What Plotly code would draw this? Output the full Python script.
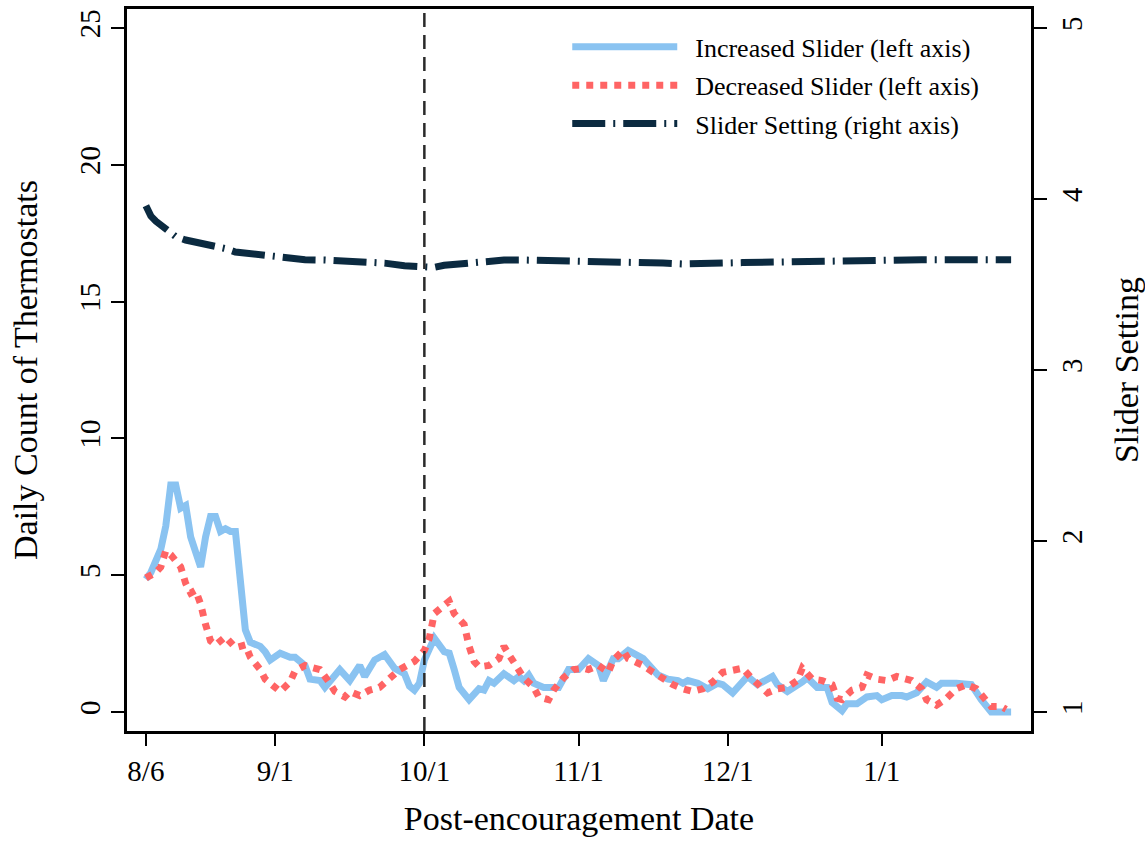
import pandas as pd
import plotly.graph_objects as go

# ---- data (days since 8/6) ----
base_date = "2016-08-06"

inc_days = [0, 1, 3, 4, 5, 6, 7, 8, 9, 11, 12, 13, 14, 15, 16, 17, 18, 19, 20, 21, 23, 24, 25, 27, 29, 30,
            32, 33, 35, 36, 37, 39, 41, 43, 44, 46, 48, 50, 52, 53, 54, 55, 56, 58, 60, 61, 62, 63, 65, 67,
            68, 69, 70, 72, 74, 75, 76, 77, 78, 80, 81, 83, 85, 87, 89, 91, 92, 94, 95, 97, 99, 100, 102,
            103, 105, 107, 108, 109, 111, 113, 115, 116, 118, 121, 123, 126, 127, 129, 132, 133, 135, 137,
            138, 140, 141, 143, 145, 147, 148, 150, 152, 153, 155, 157, 159, 160, 163, 166, 168, 170, 174]
inc_vals = [4.85, 5.1, 5.95, 6.8, 8.3, 8.3, 7.45, 7.55, 6.4, 5.3, 6.4, 7.15, 7.15, 6.6, 6.7, 6.6, 6.6, 4.8,
            3.0, 2.55, 2.4, 2.2, 1.9, 2.15, 2.0, 2.0, 1.7, 1.2, 1.15, 0.9, 1.15, 1.55, 1.15, 1.7, 1.3, 1.9,
            2.1, 1.6, 1.4, 0.95, 0.8, 1.05, 1.9, 2.7, 2.2, 2.15, 1.55, 0.9, 0.45, 0.85, 0.8, 1.15, 1.05,
            1.4, 1.15, 1.3, 1.15, 1.35, 1.05, 0.9, 0.9, 0.9, 1.55, 1.55, 1.95, 1.7, 1.15, 1.95, 1.95, 2.25,
            2.05, 1.95, 1.55, 1.35, 1.2, 1.15, 1.05, 1.15, 1.05, 0.85, 1.05, 1.0, 0.7, 1.3, 1.0, 1.3, 1.0,
            0.75, 1.1, 1.25, 0.9, 0.9, 0.35, 0.05, 0.3, 0.3, 0.55, 0.6, 0.45, 0.6, 0.6, 0.55, 0.7, 1.1,
            0.9, 1.05, 1.05, 1.0, 0.45, 0.0, 0.0]

dec_days = [0, 2, 3, 4, 5, 7, 8, 9, 10, 11, 12, 13, 14, 16, 18, 20, 21, 23, 24, 26, 27, 29, 30, 32, 35,
            37, 38, 40, 41, 43, 45, 47, 49, 51, 53, 54, 56, 57, 58, 60, 61, 62, 64, 65, 66, 67, 69, 71,
            72, 73, 75, 76, 78, 79, 81, 82, 84, 86, 88, 89, 91, 93, 94, 96, 97, 100, 102, 104, 106, 108,
            110, 112, 114, 116, 118, 120, 122, 124, 125, 127, 129, 131, 132, 134, 136, 138, 139, 140, 142,
            144, 145, 147, 149, 151, 154, 156, 157, 159, 161, 163, 165, 167, 169, 170, 172, 173]
dec_vals = [4.9, 5.1, 5.3, 5.9, 5.75, 5.3, 4.7, 4.35, 4.45, 3.95, 3.2, 2.6, 2.45, 2.75, 2.35, 2.45, 2.0,
            1.55, 1.2, 0.85, 0.75, 1.1, 1.5, 1.7, 1.55, 1.05, 0.75, 0.55, 0.75, 0.6, 0.8, 0.9, 1.25, 1.55,
            1.75, 1.85, 2.25, 2.7, 3.6, 3.85, 4.05, 3.6, 3.2, 2.4, 1.85, 1.65, 1.7, 1.95, 2.4, 2.1, 1.6,
            1.25, 0.9, 0.55, 0.45, 0.8, 1.25, 1.55, 1.6, 1.55, 1.7, 1.45, 1.9, 2.25, 1.95, 1.7, 1.45, 1.2,
            1.0, 0.85, 0.75, 0.85, 1.1, 1.45, 1.55, 1.6, 1.2, 0.85, 0.7, 0.85, 0.9, 1.15, 1.6, 1.2, 1.15,
            1.0, 0.5, 0.45, 0.8, 0.9, 1.35, 1.2, 1.15, 1.3, 1.15, 0.85, 0.45, 0.25, 0.5, 0.85, 1.0, 0.85,
            0.45, 0.2, 0.2, 0.1]

set_days = [0, 1, 2, 4, 6, 8, 11, 14, 16, 18, 21, 24, 28, 32, 36, 40, 44, 48, 52, 56, 58, 60, 64, 68, 72,
            76, 80, 84, 88, 92, 96, 100, 104, 108, 112, 116, 120, 124, 128, 132, 136, 140, 144, 148, 152,
            156, 160, 164, 168, 174]
set_vals = [3.96, 3.9, 3.87, 3.82, 3.78, 3.76, 3.74, 3.73, 3.71, 3.69, 3.68, 3.67, 3.655, 3.645, 3.643,
            3.64, 3.635, 3.625, 3.61, 3.605, 3.6, 3.612, 3.625, 3.633, 3.643, 3.643, 3.641, 3.64, 3.64,
            3.64, 3.635, 3.63, 3.625, 3.62, 3.618, 3.625, 3.628, 3.63, 3.632, 3.638, 3.643, 3.647, 3.648,
            3.648, 3.647, 3.645, 3.645, 3.645, 3.645, 3.645]

tick_dates = ["2016-08-06", "2016-09-01", "2016-10-01", "2016-11-01", "2016-12-01", "2017-01-01"]
tick_labels = ["8/6", "9/1", "10/1", "11/1", "12/1", "1/1"]
event_date = "2016-10-01"

left_ticks = [0, 5, 10, 15, 20, 25]
right_ticks = [1, 2, 3, 4, 5]

series_names = ["Increased Slider (left axis)", "Decreased Slider (left axis)",
                "Slider Setting (right axis)"]


def to_dates(days):
    return pd.to_datetime(base_date) + pd.to_timedelta(days, unit="D")


FONT = "Liberation Serif"
BLUE = "#8AC3F1"
RED = "#FF6464"
NAVY = "#0B2A40"
TICK_SIZE = 29
TITLE_SIZE = 34
PAD = "&nbsp;&nbsp;"

fig = go.Figure()
fig.add_trace(go.Scatter(x=to_dates(inc_days), y=inc_vals, mode="lines",
                         name=PAD + series_names[0], legendgroup="a",
                         line=dict(color=BLUE, width=7)))
fig.add_trace(go.Scatter(x=to_dates(dec_days), y=dec_vals, mode="lines",
                         name=PAD + series_names[1], legendgroup="b",
                         line=dict(color=RED, width=7, dash="dot")))
fig.add_trace(go.Scatter(x=to_dates(set_days), y=set_vals, mode="lines", yaxis="y2",
                         name=PAD + series_names[2], legendgroup="c",
                         line=dict(color=NAVY, width=7, dash="33px,8px,2px,8px")))

fig.add_shape(type="line", xref="x", yref="paper", x0=event_date, x1=event_date, y0=0, y1=1,
              line=dict(color="#2a2a2a", width=2.5, dash="14px,8px"))

x0 = pd.to_datetime(base_date) - pd.Timedelta(days=3.8)
x1 = pd.to_datetime(base_date) + pd.Timedelta(days=178)

fig.update_layout(
    width=1145, height=842,
    margin=dict(l=127, r=114, t=9, b=111, autoexpand=False),
    paper_bgcolor="white", plot_bgcolor="white",
    font=dict(family=FONT, size=TICK_SIZE, color="black"),
    showlegend=True,
    legend=dict(x=0.487, y=0.98, xanchor="left", yanchor="top",
                font=dict(family=FONT, size=26), bgcolor="rgba(0,0,0,0)",
                itemwidth=105, tracegroupgap=1.5),
    xaxis=dict(range=[x0, x1], tickvals=pd.to_datetime(tick_dates), ticktext=tick_labels,
               automargin=False,
               showline=True, linecolor="black", linewidth=2.5, mirror=True,
               ticks="outside", ticklen=12, tickwidth=1.5, tickcolor="black",
               showgrid=False, zeroline=False, tickfont=dict(size=TICK_SIZE),
               title=dict(text="Post-encouragement Date", font=dict(size=TITLE_SIZE), standoff=21)),
    yaxis=dict(range=[-0.694, 25.694], tickvals=left_ticks, showline=True, linecolor="black",
               automargin=False,
               linewidth=2.5, ticks="outside", ticklen=13, tickwidth=1.5, tickcolor="black",
               showgrid=False, zeroline=False, tickangle=-90, tickfont=dict(size=TICK_SIZE),
               title=dict(text="Daily Count of Thermostats", font=dict(size=TITLE_SIZE), standoff=26)),
    yaxis2=dict(range=[0.889, 5.111], tickvals=right_ticks, overlaying="y", side="right",
                automargin=False,
                showline=True, linecolor="black", linewidth=2.5, ticks="outside", ticklen=13,
                tickwidth=1.5, tickcolor="black", showgrid=False, zeroline=False, tickangle=-90,
                tickfont=dict(size=TICK_SIZE),
                title=dict(text="Slider Setting", font=dict(size=TITLE_SIZE), standoff=37)),
)

fig.write_html("out.html")
